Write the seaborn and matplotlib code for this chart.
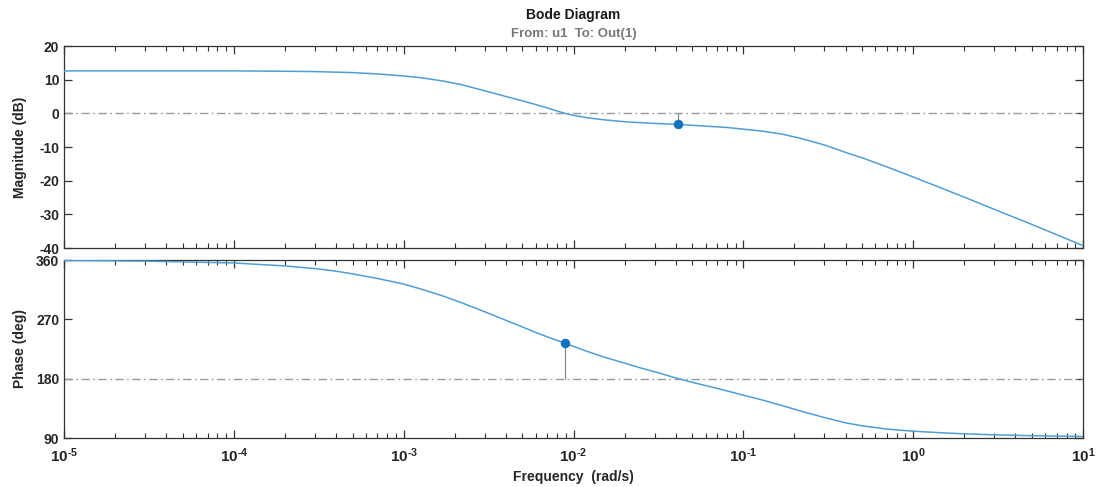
import numpy as np
import pandas as pd
import matplotlib
matplotlib.use("Agg")
import matplotlib.pyplot as plt
from matplotlib.ticker import LogLocator, FixedLocator, NullFormatter, FuncFormatter
import seaborn as sns

# Frequency response samples (rad/s, dB)
mag_freq = [1e-5, 1e-4, 2e-4, 3e-4, 5e-4, 7e-4, 1e-3, 1.3e-3, 1.7e-3, 2.2e-3, 3e-3,
            4e-3, 5e-3, 6e-3, 7e-3, 8e-3, 8.9e-3, 1e-2, 1.2e-2, 1.5e-2, 2e-2, 3e-2,
            4.15e-2, 6e-2, 8e-2, 0.1, 0.13, 0.17, 0.22, 0.3, 0.4, 0.5, 0.7, 1.0,
            1.5, 2.0, 3.0, 5.0, 10.0]
magnitude_db = [12.6, 12.6, 12.5, 12.4, 12.1, 11.7, 11.1, 10.5, 9.6, 8.5, 6.7,
                5.0, 3.7, 2.6, 1.6, 0.7, 0.0, -0.6, -1.3, -1.9, -2.5, -3.0,
                -3.3, -3.8, -4.2, -4.7, -5.3, -6.2, -7.5, -9.4, -11.6, -13.2, -15.9, -18.9,
                -22.4, -24.9, -28.5, -33.0, -39.3]

# Frequency response samples (rad/s, deg)
phase_freq = [1e-5, 3e-5, 1e-4, 2e-4, 3e-4, 4e-4, 5e-4, 7e-4, 1e-3, 1.3e-3, 1.7e-3,
              2.2e-3, 3e-3, 4e-3, 5e-3, 6e-3, 7e-3, 8.9e-3, 1e-2, 1.2e-2, 1.5e-2,
              2e-2, 2.5e-2, 3e-2, 4.15e-2, 5e-2, 6e-2, 8e-2, 0.1, 0.13, 0.17, 0.22,
              0.3, 0.4, 0.5, 0.7, 1.0, 1.5, 2.0, 3.0, 5.0, 10.0]
phase_deg = [359.3, 358.3, 355.5, 351.0, 347.0, 343.0, 339.0, 332.0, 323.5, 315.0, 305.5,
             295.0, 281.5, 268.5, 258.5, 250.0, 243.5, 233.8, 229.0, 221.5, 213.0,
             203.5, 196.0, 190.5, 180.0, 174.5, 169.5, 161.5, 155.0, 147.5, 139.0, 130.5,
             121.0, 113.0, 108.5, 103.5, 100.3, 97.8, 96.3, 94.8, 93.5, 92.3]

# Stability margin points
gain_margin_freq = [4.15e-2]
gain_margin_mag = [-3.3]
phase_margin_freq = [8.9e-3]
phase_margin_phase = [233.8]

mag_ticks = [-40, -30, -20, -10, 0, 10, 20]
phase_ticks = [90, 180, 270, 360]
decades = [1e-5, 1e-4, 1e-3, 1e-2, 1e-1, 1e0, 1e1]

sns.set_theme(style="ticks")
plt.rcParams["font.family"] = ["Liberation Sans", "DejaVu Sans"]
plt.rcParams["font.weight"] = "bold"
plt.rcParams["axes.unicode_minus"] = False
plt.rcParams["mathtext.fontset"] = "custom"
plt.rcParams["mathtext.rm"] = "Liberation Sans:bold"
plt.rcParams["mathtext.bf"] = "Liberation Sans:bold"
plt.rcParams["mathtext.it"] = "Liberation Sans:bold"

W, H = 1100, 487
fig = plt.figure(figsize=(W / 100, H / 100), dpi=100)
fig.patch.set_facecolor("white")

left, right = 64 / W, 1083 / W
ax_mag = fig.add_axes([left, 1 - 248 / H, right - left, (248 - 46) / H])
ax_ph = fig.add_axes([left, 1 - 438 / H, right - left, (438 - 260) / H])

line_color = "#4f9fd6"
marker_color = "#0f72bd"
frame_color = "#333333"
ref_color = "#9a9a9a"

df_mag = pd.DataFrame({"freq": mag_freq, "mag": magnitude_db})
df_ph = pd.DataFrame({"freq": phase_freq, "phase": phase_deg})

for ax in (ax_mag, ax_ph):
    ax.set_xscale("log")
    ax.set_xlim(decades[0], decades[-1])
    for s in ax.spines.values():
        s.set_color(frame_color)
        s.set_linewidth(0.9)
    ax.xaxis.set_major_locator(FixedLocator(decades))
    ax.xaxis.set_minor_locator(LogLocator(base=10, subs=np.arange(2, 10), numticks=20))
    ax.xaxis.set_minor_formatter(NullFormatter())
    ax.tick_params(which="both", direction="in", top=True, right=True,
                   colors=frame_color, labelcolor="#262626", labelsize=10)
    ax.tick_params(which="major", length=6, width=0.9)
    ax.tick_params(which="minor", length=3.5, width=0.8)
    ax.set_facecolor("white")

# Magnitude panel
ax_mag.axhline(0, color=ref_color, lw=1.0, ls=(0, (6, 2.5, 1.2, 2.5)), zorder=1)
sns.lineplot(data=df_mag, x="freq", y="mag", ax=ax_mag, color=line_color, lw=1.1,
             estimator=None, sort=False, zorder=3)
ax_mag.vlines(gain_margin_freq, gain_margin_mag, [0], color="#8a8a8a", lw=0.9, zorder=2)
sns.scatterplot(x=gain_margin_freq, y=gain_margin_mag, ax=ax_mag, color=marker_color,
                s=40, edgecolor=marker_color, zorder=4)
ax_mag.set_ylim(-40, 20)
ax_mag.yaxis.set_major_locator(FixedLocator(mag_ticks))
ax_mag.xaxis.set_major_formatter(NullFormatter())
ax_mag.set_xlabel("")
ax_mag.set_ylabel("Magnitude (dB)", fontsize=10, fontweight="bold", color="#262626")

# Phase panel
ax_ph.axhline(180, color=ref_color, lw=1.0, ls=(0, (6, 2.5, 1.2, 2.5)), zorder=1)
sns.lineplot(data=df_ph, x="freq", y="phase", ax=ax_ph, color=line_color, lw=1.1,
             estimator=None, sort=False, zorder=3)
ax_ph.vlines(phase_margin_freq, [180], phase_margin_phase, color="#8a8a8a", lw=0.9, zorder=2)
sns.scatterplot(x=phase_margin_freq, y=phase_margin_phase, ax=ax_ph, color=marker_color,
                s=40, edgecolor=marker_color, zorder=4)
ax_ph.set_ylim(90, 360)
ax_ph.yaxis.set_major_locator(FixedLocator(phase_ticks))


def decade_label(v, pos):
    e = int(round(np.log10(v)))
    if e < 0:
        return r"$10^{\text{-}%d}$" % (-e)
    return r"$10^{%d}$" % e


ax_ph.xaxis.set_major_formatter(FuncFormatter(decade_label))
ax_ph.tick_params(axis="x", which="major", pad=6, labelsize=11)
ax_ph.set_xlabel("Frequency  (rad/s)", fontsize=10, fontweight="bold", color="#262626")
ax_ph.set_ylabel("Phase (deg)", fontsize=10, fontweight="bold", color="#262626")

for ax in (ax_mag, ax_ph):
    for lab in ax.get_yticklabels():
        lab.set_fontweight("bold")
    ax.yaxis.set_label_coords(-0.036, 0.5)

fig.text((left + right) / 2, 1 - 15 / H, "Bode Diagram", ha="center", va="center",
         fontsize=10, fontweight="bold", color="#1a1a1a")
fig.text((left + right) / 2, 1 - 34 / H, "From: u1  To: Out(1)", ha="center", va="center",
         fontsize=9.5, fontweight="bold", color="#777777")

fig.savefig("out.png", dpi=100, facecolor="white")
